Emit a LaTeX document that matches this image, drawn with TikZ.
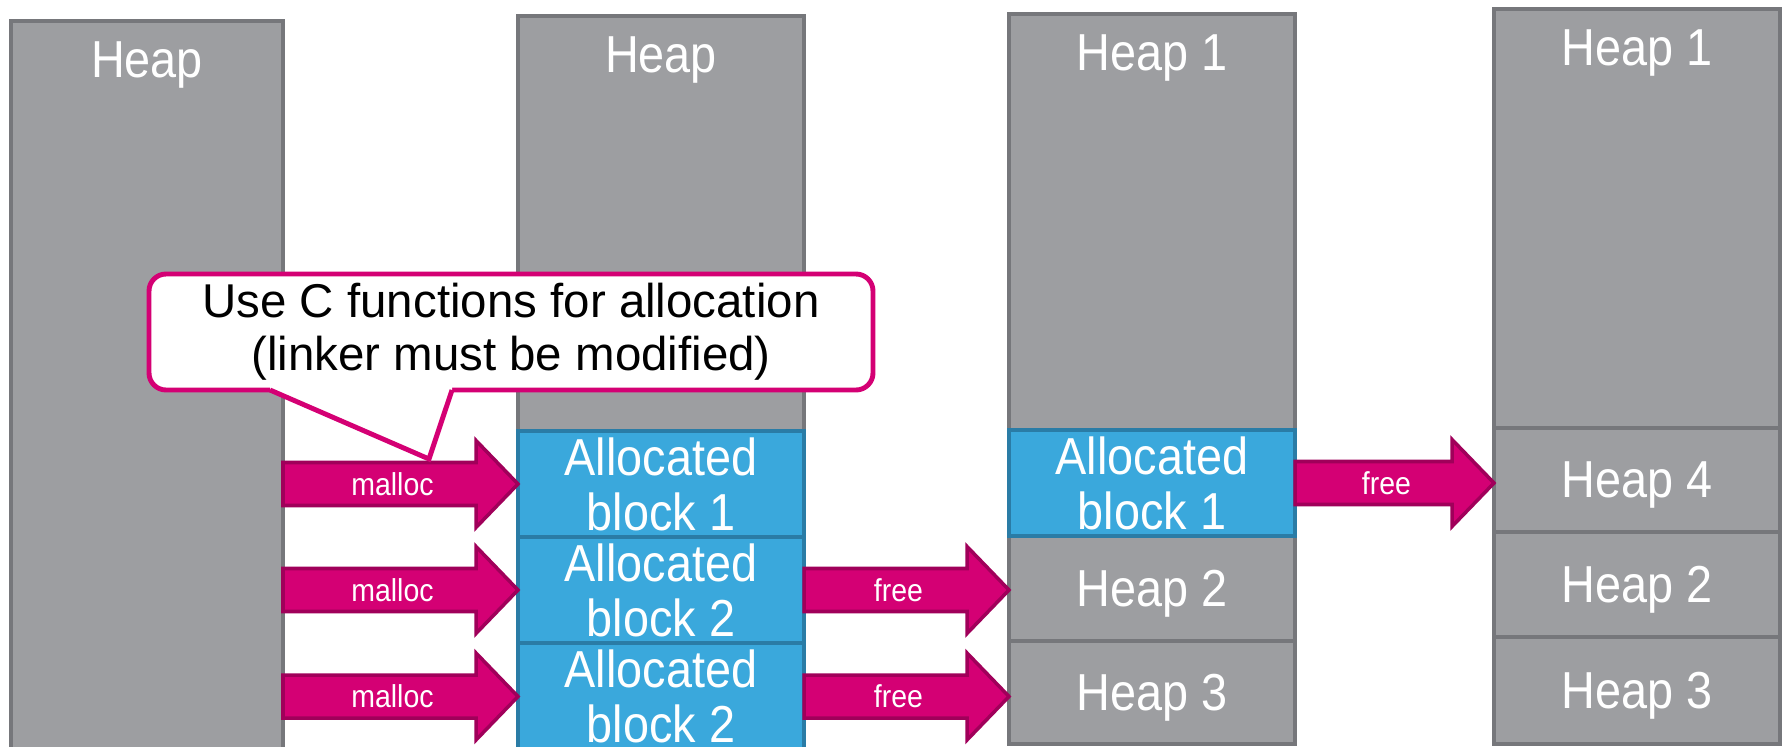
\documentclass[tikz,border=0pt]{standalone}
\usepackage{fontspec}
\setmainfont{Liberation Sans}
\newfontfamily\tallsf[FakeStretch=0.9]{Liberation Sans}
\usetikzlibrary{calc}

\definecolor{heapgray}{HTML}{9D9EA1}
\definecolor{heapedge}{HTML}{76777B}
\definecolor{allocblue}{HTML}{3AA8DC}
\definecolor{allocedge}{HTML}{2A7CA6}
\definecolor{arrowpink}{HTML}{D40074}
\definecolor{arrowedge}{HTML}{A0005A}

\tikzset{
  block/.style={draw=heapedge, fill=heapgray, line width=1.4pt, inner sep=0pt, outer sep=0pt,
    minimum width=28.6mm, text=white, align=center, font=\tallsf\fontsize{14.8}{15.6}\selectfont},
  piece/.style={block, text depth=0pt},
  alloc/.style={block, draw=allocedge, fill=allocblue},
  heaptitle/.style={anchor=north, inner sep=0pt, yshift=-2mm, text=white,
    font=\tallsf\fontsize{14.8}{15.6}\selectfont},
  fatarrow/.style={draw=arrowedge, fill=arrowpink, line width=1pt, line join=miter},
  armlabel/.style={text=white, inner sep=0pt, font=\tallsf\fontsize{9}{10}\selectfont},
  callout/.style={draw=arrowpink, fill=white, line width=1.4pt, rounded corners=1.7mm,
    inner sep=0pt, outer sep=0pt, align=center, font=\fontsize{13.5}{15}\selectfont},
  calloutline/.style={draw=arrowpink, line width=1.4pt}
}

% fat arrow from #1 to the tip #2, label #3
\newcommand{\fatarrow}[3]{%
  \draw[fatarrow] let \p1=(#1), \p2=(#2) in
    (\x1,\y1-2.15mm) -- (\x2-4.2mm,\y1-2.15mm) -- (\x2-4.2mm,\y1-4.35mm)
    -- (\x2,\y1) -- (\x2-4.2mm,\y1+4.35mm) -- (\x2-4.2mm,\y1+2.15mm)
    -- (\x1,\y1+2.15mm) -- cycle
    (\x1/2+\x2/2-0.8mm,\y1) node[armlabel] {#3};}

\begin{document}
\begin{tikzpicture}[x=0.1mm, y=-0.1mm]
  \useasboundingbox (0,0) rectangle (1785,747);
  \clip (0,0) rectangle (1785,747);

  % before malloc
  \node[block, minimum width=27.2mm, minimum height=74.9mm,
    label={[heaptitle]north:Heap}] (h0) at (147,395.5) {};

  % after malloc
  \node[block, minimum height=41.5mm, label={[heaptitle]north:Heap}] (a0) at (661,223.5) {};
  \node[alloc, minimum height=10.6mm] (b1) at (661,484) {Allocated\\block 1};
  \node[alloc, minimum height=10.6mm] (b2) at (661,590) {Allocated\\block 2};
  \node[alloc, minimum height=10.7mm] (b3) at (661,696.5) {Allocated\\block 2};

  % after two frees
  \node[block, minimum height=41.6mm, label={[heaptitle]north:Heap 1}] (c1) at (1152,222) {};
  \node[piece, minimum height=10.5mm] (c2) at (1152,588.5) {Heap 2};
  \node[piece, minimum height=10.3mm] (c3) at (1152,692.5) {Heap 3};
  \node[alloc, minimum height=10.6mm] (c0) at (1152,483) {Allocated\\block 1};

  % all freed
  \node[block, minimum height=41.9mm, label={[heaptitle]north:Heap 1}] (d1) at (1637,218.5) {};
  \node[piece, minimum height=10.4mm] (d4) at (1637,480) {Heap 4};
  \node[piece, minimum height=10.5mm] (d2) at (1637,584.5) {Heap 2};
  \node[piece, minimum height=10.7mm] (d3) at (1637,690.5) {Heap 3};

  \foreach \b in {b1,b2,b3}
    \fatarrow{h0.east |- \b.west}{\b.west}{malloc};
  \fatarrow{b2.east}{c2.west |- b2.east}{free}
  \fatarrow{b3.east}{c3.west |- b3.east}{free}
  \fatarrow{c0.east}{d4.west |- c0.east}{free}

  % speech bubble
  \node[callout, minimum width=72.4mm, minimum height=11.6mm] (note) at (511,332)
    {Use C functions for allocation\\(linker must be modified)};
  \coordinate (tip) at (429,459);
  \fill[white] ($(note.south west)+(121,-4)$) -- ($(note.south west)+(303,-4)$)
    -- ($(note.south west)+(303,0)$) -- (tip) -- ($(note.south west)+(121,0)$) -- cycle;
  \draw[calloutline] ($(note.south west)+(121,0)$) -- (tip) -- ($(note.south west)+(303,0)$);
\end{tikzpicture}
\end{document}
